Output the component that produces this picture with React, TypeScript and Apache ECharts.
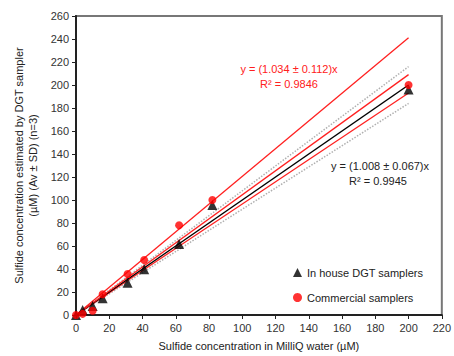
import React, { useEffect, useRef } from "react";
import * as echarts from "echarts";

const concentrations = [0, 4, 10, 16, 31, 41, 62, 82, 200];
const inHouse = [0, 4.3, 7.8, 14.5, 28, 39.7, 61.7, 95.6, 196];
const commercial = [0, 1, 3.7, 18, 35.6, 47.8, 78, 100, 200];
const fitX = [0, 200];
const redFit = [0, 209];
const redUpper = [0, 241];
const redLower = [0, 193];
const blackFit = [0, 200];
const grayUpper = [0, 216];
const grayLower = [0, 184];
const xTicks = [0, 220, 20];
const yTicks = [0, 260, 20];

const FONT = "'Liberation Sans', Arial, sans-serif";

export default function App() {
  const ref = useRef<HTMLDivElement>(null);
  useEffect(() => {
    if (!ref.current) return;
    const chart = echarts.init(ref.current, undefined, { renderer: "svg" });
    const pairs = (xs: number[], ys: number[]) => xs.map((x, i) => [x, ys[i]]);
    const lineSeries = (name: string, ys: number[], color: string, type: any, width: number) => ({
      name,
      type: "line",
      data: pairs(fitX, ys),
      showSymbol: false,
      symbol: "none",
      lineStyle: { color, width, type },
      silent: true,
      z: 2,
    });
    chart.setOption({
      animation: false,
      textStyle: { fontFamily: FONT },
      grid: { left: 76, right: 10, top: 16, bottom: 41, show: true, borderColor: "#777", borderWidth: 2 },
      xAxis: {
        type: "value",
        min: xTicks[0],
        max: xTicks[1],
        interval: xTicks[2],
        splitLine: { show: false },
        axisLine: { lineStyle: { color: "#222", width: 2 } },
        axisTick: { show: true, inside: false, length: 4, lineStyle: { color: "#222" } },
        axisLabel: { color: "#333", fontSize: 11, fontFamily: FONT, margin: 7 },
        name: "Sulfide concentration in MilliQ water (µM)",
        nameLocation: "middle",
        nameGap: 25,
        nameTextStyle: { color: "#222", fontSize: 11, fontFamily: FONT },
      },
      yAxis: {
        type: "value",
        min: yTicks[0],
        max: yTicks[1],
        interval: yTicks[2],
        splitLine: { show: false },
        axisLine: { show: true, lineStyle: { color: "#222", width: 2 } },
        axisTick: { show: true, inside: false, length: 4, lineStyle: { color: "#222" } },
        axisLabel: { color: "#333", fontSize: 11, fontFamily: FONT, margin: 7 },
        name: "Sulfide concentration estimated by DGT sampler\n(µM) (Av ± SD) (n=3)",
        nameLocation: "middle",
        nameGap: 35,
        nameTextStyle: { color: "#222", fontSize: 11, fontFamily: FONT, lineHeight: 14 },
      },
      legend: {
        orient: "vertical",
        left: 288,
        top: 262,
        itemGap: 14,
        itemWidth: 9,
        itemHeight: 9,
        textStyle: { color: "#222", fontSize: 11, fontFamily: FONT },
        data: [
          { name: "In house DGT samplers", icon: "triangle" },
          { name: "Commercial samplers", icon: "circle" },
        ],
      },
      series: [
        lineSeries("gu", grayUpper, "#b0b0b0", "dotted", 1.5),
        lineSeries("gl", grayLower, "#b0b0b0", "dotted", 1.5),
        lineSeries("ru", redUpper, "#ff2020", "solid", 1.3),
        lineSeries("rl", redLower, "#ff2020", "solid", 1.3),
        lineSeries("bf", blackFit, "#000000", "solid", 1.5),
        lineSeries("rf", redFit, "#ff2020", "solid", 1.3),
        {
          name: "In house DGT samplers",
          type: "scatter",
          symbol: "triangle",
          symbolSize: 10,
          data: pairs(concentrations, inHouse),
          itemStyle: { color: "#000" },
          z: 3,
        },
        {
          name: "Commercial samplers",
          type: "scatter",
          symbol: "circle",
          symbolSize: 8,
          data: pairs(concentrations, commercial),
          itemStyle: { color: "#ff0000" },
          z: 4,
        },
      ],
      graphic: [
        { type: "text", x: 289, y: 69, style: { text: "y = (1.034 ± 0.112)x", fill: "#ff2020", font: `11px ${FONT}`, align: "center", verticalAlign: "middle" } },
        { type: "text", x: 289, y: 84, style: { text: "R² = 0.9846", fill: "#ff2020", font: `11px ${FONT}`, align: "center", verticalAlign: "middle" } },
        { type: "text", x: 380, y: 166, style: { text: "y = (1.008 ± 0.067)x", fill: "#222", font: `11px ${FONT}`, align: "center", verticalAlign: "middle" } },
        { type: "text", x: 378, y: 181, style: { text: "R² = 0.9945", fill: "#222", font: `11px ${FONT}`, align: "center", verticalAlign: "middle" } },
      ],
    });
    return () => chart.dispose();
  }, []);
  return <div ref={ref} style={{ width: 454, height: 356, position: "absolute", left: 0, top: 0, background: "#fff" }} />;
}
